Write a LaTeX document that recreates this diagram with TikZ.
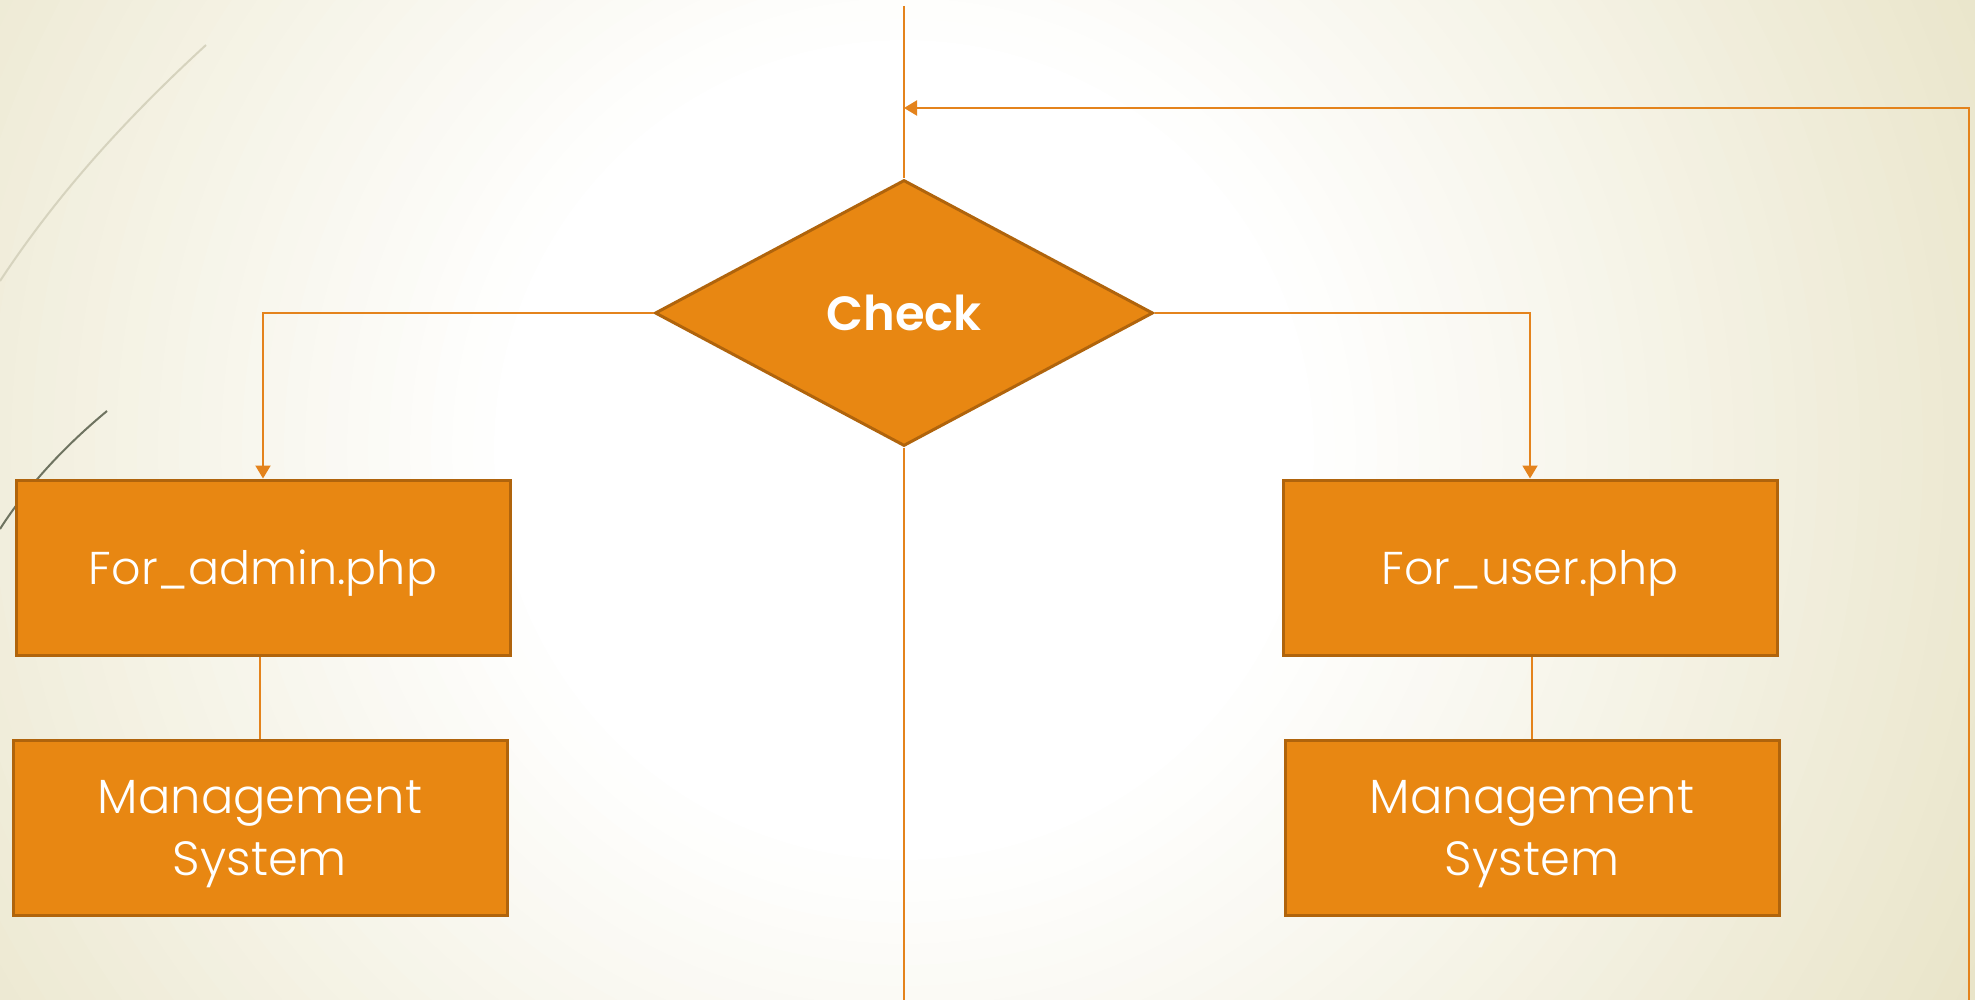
\documentclass[tikz,border=0pt]{standalone}
\usepackage{fontspec}
\setmainfont{Poppins}[UprightFont=* Light, BoldFont=* SemiBold]
\usetikzlibrary{shapes.geometric,arrows.meta}

\newlength{\du}
\setlength{\du}{0.5pt}

\definecolor{bgedge}{RGB}{232,227,198}
\definecolor{boxfill}{RGB}{232,135,18}
\definecolor{boxline}{RGB}{176,100,12}
\definecolor{flowcolor}{RGB}{228,131,28}

\begin{document}
\begin{tikzpicture}[
  procbox/.style={draw=boxline, fill=boxfill, line width=3\du, minimum width=494\du,
    minimum height=175\du, inner sep=0pt, text=white, align=center, text depth=0pt},
  decision/.style={diamond, draw=boxline, fill=boxfill, line width=3\du, aspect=1.87,
    minimum width=498\du, minimum height=266\du, inner sep=0pt, text=white,
    font=\bfseries\fontsize{24}{28}\selectfont},
  flowline/.style={draw=flowcolor, line width=2\du},
  flowarrow/.style={flowline, -{Triangle[width=7.5pt,length=6.5pt]}}
]
\pgftransformyscale{-1.000000}
\useasboundingbox (0\du,0\du) rectangle (1975\du,1000\du);
% background
\begin{scope}
\clip (0\du,0\du) rectangle (1975\du,1000\du);
\fill[bgedge] (0\du,0\du) rectangle (1975\du,1000\du);
\foreach \i in {0,...,40}{
  \pgfmathsetmacro\rad{1250-21*\i}
  \pgfmathsetmacro\pct{100-2.5*\i}
  \fill[bgedge!\pct!white] (904\du,450\du) circle (\rad\du);
}
\end{scope}
% wisps
\definecolor{dialinecolor}{RGB}{214,211,190}
\draw[dialinecolor, line width=2\du] (206\du,45\du) .. controls (130\du,115\du) and (60\du,190\du) .. (0\du,281\du);
\definecolor{dialinecolor}{RGB}{110,115,96}
\draw[dialinecolor, line width=2\du] (107\du,411\du) .. controls (60\du,450\du) and (25\du,490\du) .. (0\du,529\du);

% nodes
\node[decision] (check) at (904\du,313\du) {Check};
\node[procbox, font=\fontsize{23}{31}\selectfont] (admin) at (263\du,567.5\du) {For\_admin.php};
\node[procbox, font=\fontsize{24}{31}\selectfont] (adminms) at (260\du,828\du) {Management\\System};
\node[procbox, font=\fontsize{23}{31}\selectfont] (user) at (1530\du,567.5\du) {For\_user.php};
\node[procbox, font=\fontsize{24}{31}\selectfont] (userms) at (1532\du,828\du) {Management\\System};
\coordinate (top) at (904\du,6\du);
\coordinate (bottom) at (904\du,1000\du);
\coordinate (loopend) at (1969\du,1000\du);
\coordinate (loopin) at (904\du,108\du);

% connectors
\draw[flowline] (top) -- (check.north);
\draw[flowline] (check.south) -- (bottom);
\draw[flowarrow] (check.west) -| (admin.north);
\draw[flowarrow] (check.east) -| (user.north);
\draw[flowline] (admin.south -| adminms.north) -- (adminms.north);
\draw[flowline] (user.south -| userms.north) -- (userms.north);
\draw[flowarrow] (loopend) |- (loopin);
\end{tikzpicture}
\end{document}
